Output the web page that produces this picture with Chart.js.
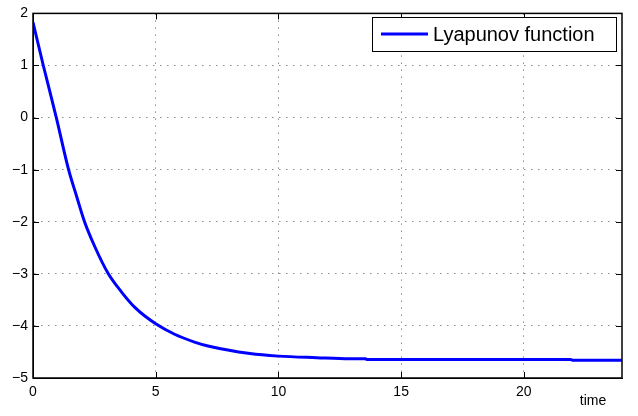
<!DOCTYPE html>
<html>
<head>
<meta charset="utf-8">
<script src="https://cdn.jsdelivr.net/npm/chart.js@4/dist/chart.umd.min.js"></script>
<style>
  html, body { margin: 0; padding: 0; background: #fff; }
  #wrap { width: 638px; height: 416px; }
</style>
</head>
<body>
<div id="wrap"><canvas id="lyapChart"></canvas></div>
<script>
// values
const timeValues = [0, 0.42, 0.95, 1.45, 1.77, 2.10, 2.52, 3.07, 3.61, 4.16, 5.0, 5.77, 6.58, 7.13, 8.84, 10, 11.56, 12.9, 13.55, 13.6, 21.9, 22.0, 24];
const lyapValues = [1.83, 1.0, 0.0, -1.0, -1.5, -2.0, -2.48, -3.0, -3.35, -3.65, -3.96, -4.16, -4.31, -4.385, -4.53, -4.58, -4.61, -4.63, -4.63, -4.645, -4.645, -4.66, -4.66];
const xTicks = [0, 5, 10, 15, 20];
const yTicks = [2, 1, 0, -1, -2, -3, -4, -5];
const seriesLabel = 'Lyapunov function';
const xTitle = 'time';

const ctx = document.getElementById('lyapChart').getContext('2d');
const font = 'Liberation Sans, Arial, Helvetica, sans-serif';

// box, inward ticks, legend and the "time" label (matlab look)
const matlabFrame = {
  id: 'matlabFrame',
  afterDraw(chart) {
    const c = chart.ctx;
    const a = chart.chartArea;
    const xs = chart.scales.x, ys = chart.scales.y;
    c.save();
    c.strokeStyle = '#000';
    c.lineWidth = 1;
    c.beginPath();
    xTicks.forEach(v => {
      const px = Math.round(xs.getPixelForValue(v)) + 0.5;
      c.moveTo(px, a.bottom); c.lineTo(px, a.bottom - 6);
      c.moveTo(px, a.top); c.lineTo(px, a.top + 6);
    });
    yTicks.forEach(v => {
      const py = Math.round(ys.getPixelForValue(v)) + 0.5;
      c.moveTo(a.left, py); c.lineTo(a.left + 6, py);
      c.moveTo(a.right, py); c.lineTo(a.right - 6, py);
    });
    c.stroke();
    c.lineWidth = 1.5;
    c.strokeRect(a.left, a.top, a.right - a.left, a.bottom - a.top);

    // legend
    const lx = 372, ly = 17, lw = 244, lh = 34;
    c.fillStyle = '#fff';
    c.fillRect(lx, ly, lw, lh);
    c.lineWidth = 1;
    c.strokeRect(lx + 0.5, ly + 0.5, lw, lh);
    const ds = chart.data.datasets[0];
    c.strokeStyle = ds.borderColor;
    c.lineWidth = 3;
    c.beginPath();
    c.moveTo(381, ly + 17); c.lineTo(428, ly + 17);
    c.stroke();
    c.fillStyle = '#000';
    c.font = '20px ' + font;
    c.textBaseline = 'middle';
    c.fillText(ds.label, 433, ly + 18);

    // axis label
    c.font = '14px ' + font;
    c.textAlign = 'center';
    c.fillText(xTitle, 593, 401);
    c.restore();
  }
};

new Chart(ctx, {
  type: 'line',
  data: {
    datasets: [{
      label: seriesLabel,
      data: timeValues.map((t, i) => ({ x: t, y: lyapValues[i] })),
      borderColor: '#0000ff',
      borderWidth: 3,
      pointRadius: 0,
      cubicInterpolationMode: 'monotone',
      fill: false
    }]
  },
  options: {
    responsive: true,
    maintainAspectRatio: false,
    animation: false,
    layout: { padding: { left: 0, top: 10, right: 16, bottom: 0 } },
    plugins: { legend: { display: false }, tooltip: { enabled: false } },
    scales: {
      x: {
        type: 'linear',
        min: 0,
        max: 24,
        afterBuildTicks: s => { s.ticks = xTicks.map(v => ({ value: v })); },
        afterFit: s => { s.height = 38; },
        grid: { color: '#8c8c8c', drawTicks: false },
        border: { display: true, color: '#000', dash: [1.5, 5.5] },
        ticks: { color: '#000', font: { family: font, size: 14 }, padding: 6, maxRotation: 0 }
      },
      y: {
        min: -5,
        max: 2,
        afterBuildTicks: s => { s.ticks = yTicks.map(v => ({ value: v })); },
        afterFit: s => { s.width = 33; },
        grid: { color: '#8c8c8c', drawTicks: false },
        border: { display: true, color: '#000', dash: [1.5, 5.5] },
        ticks: {
          color: '#000', font: { family: font, size: 14 }, padding: 5,
          callback: v => String(v).replace('-', '\u2212')
        }
      }
    }
  },
  plugins: [matlabFrame]
});
</script>
</body>
</html>
